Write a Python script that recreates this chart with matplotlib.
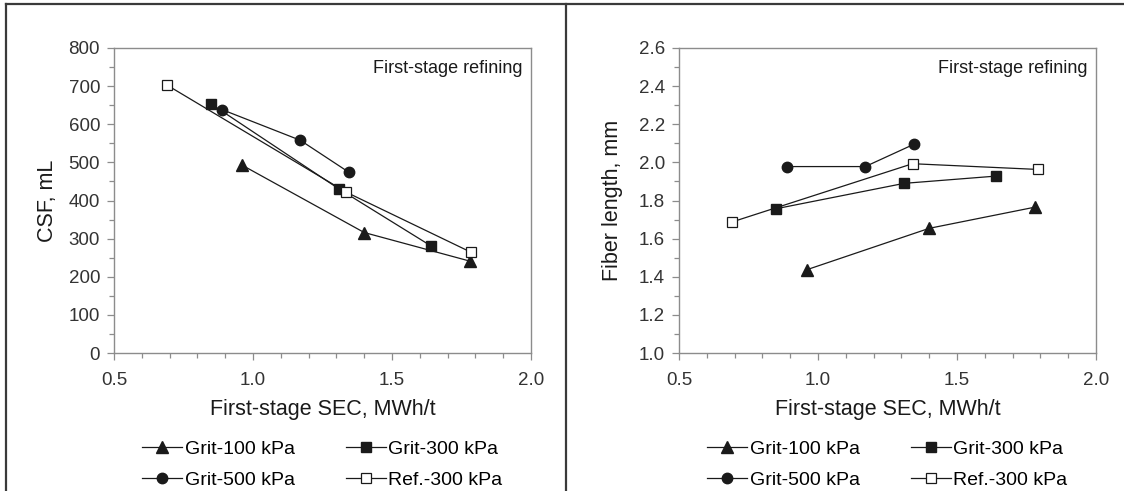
import matplotlib
matplotlib.use("Agg")
import matplotlib.pyplot as plt
from matplotlib.lines import Line2D
from matplotlib.ticker import MultipleLocator, FormatStrFormatter

plt.rcParams['font.family'] = ['Liberation Sans', 'DejaVu Sans']

# first-stage specific energy (MWh/t) and results per series
sec_g100 = [0.96, 1.40, 1.78]
sec_g300 = [0.85, 1.31, 1.64]
sec_g500 = [0.89, 1.17, 1.345]
sec_ref = [0.69, 1.335, 1.785]

csf_g100 = [493, 316, 241]
csf_g300 = [653, 430, 281]
csf_g500 = [638, 558, 474]
csf_ref = [703, 422, 264]

fl_sec_ref = [0.69, 1.34, 1.79]
fl_g100 = [1.437, 1.654, 1.765]
fl_g300 = [1.757, 1.89, 1.928]
fl_g500 = [1.978, 1.978, 2.095]
fl_ref = [1.687, 1.993, 1.963]

labels = ['Grit-100 kPa', 'Grit-300 kPa', 'Grit-500 kPa', 'Ref.-300 kPa']

ink = '#1a1a1a'
spine_col = '#8c8c8c'

fig = plt.figure(figsize=(11.24, 4.91), dpi=100)
ax1 = fig.add_axes([114 / 1124, 138 / 491, 417 / 1124, 305 / 491])
ax2 = fig.add_axes([679 / 1124, 138 / 491, 417 / 1124, 305 / 491])


def draw_series(ax, xs, ys):
    styles = [
        dict(marker='^', markersize=9, mfc=ink, mec=ink),
        dict(marker='s', markersize=7.5, mfc=ink, mec=ink),
        dict(marker='o', markersize=7.5, mfc=ink, mec=ink),
        dict(marker='s', markersize=7.5, mfc='white', mec=ink, mew=0.9),
    ]
    handles = []
    for x, y, st in zip(xs, ys, styles):
        h, = ax.plot(x, y, color=ink, lw=0.9, **st)
        handles.append(h)
    return handles


h1 = draw_series(ax1, [sec_g100, sec_g300, sec_g500, sec_ref],
                 [csf_g100, csf_g300, csf_g500, csf_ref])
h2 = draw_series(ax2, [sec_g100, sec_g300, sec_g500, fl_sec_ref],
                 [fl_g100, fl_g300, fl_g500, fl_ref])

ax1.set_ylim(0, 800)
ax1.yaxis.set_major_locator(MultipleLocator(100))
ax1.yaxis.set_minor_locator(MultipleLocator(50))
ax1.set_ylabel('CSF, mL', fontsize=15.5, color=ink)

ax2.set_ylim(1.0, 2.6)
ax2.yaxis.set_major_locator(MultipleLocator(0.2))
ax2.yaxis.set_minor_locator(MultipleLocator(0.1))
ax2.yaxis.set_major_formatter(FormatStrFormatter('%.1f'))
ax2.set_ylabel('Fiber length, mm', fontsize=15.5, color=ink)

for ax, handles in [(ax1, h1), (ax2, h2)]:
    ax.set_xlim(0.5, 2.0)
    ax.xaxis.set_major_locator(MultipleLocator(0.5))
    ax.xaxis.set_minor_locator(MultipleLocator(0.1))
    ax.xaxis.set_major_formatter(FormatStrFormatter('%.1f'))
    ax.set_xlabel('First-stage SEC, MWh/t', fontsize=15.5, color=ink, labelpad=7)
    ax.yaxis.set_label_coords(-56 / 417, 0.5)
    for s in ax.spines.values():
        s.set_color(spine_col)
        s.set_linewidth(1.0)
    ax.tick_params(which='major', direction='out', length=5, width=0.9,
                   color=spine_col, labelsize=13.5, labelcolor='#333333')
    ax.tick_params(axis='x', which='major', pad=9)
    ax.tick_params(axis='y', which='major', pad=5)
    ax.tick_params(which='minor', direction='out', length=3.5, width=0.9,
                   color=spine_col)
    ax.text(0.98, 0.934, 'First-stage refining', transform=ax.transAxes,
            ha='right', va='center', fontsize=13, color=ink)
    # column-major order so rows read 100/300 then 500/Ref
    order = [0, 2, 1, 3]
    ax.legend([handles[i] for i in order], [labels[i] for i in order],
              ncol=2, loc='upper center', bbox_to_anchor=(0.5, -0.255),
              frameon=False, fontsize=14, handlelength=2.05,
              handletextpad=0.15, columnspacing=2.6, labelspacing=0.68,
              borderpad=0.0)

# outer frame and divider
frame_col = '#3a3a3a'
fig.add_artist(Line2D([6 / 1124, 1.0], [1 - 4 / 491, 1 - 4 / 491],
                      color=frame_col, lw=1.6, transform=fig.transFigure))
fig.add_artist(Line2D([6 / 1124, 6 / 1124], [0, 1 - 4 / 491],
                      color=frame_col, lw=1.6, transform=fig.transFigure))
fig.add_artist(Line2D([566.5 / 1124, 566.5 / 1124], [0, 1 - 4 / 491],
                      color=frame_col, lw=1.6, transform=fig.transFigure))

fig.savefig('out.png', dpi=100, facecolor='white')
